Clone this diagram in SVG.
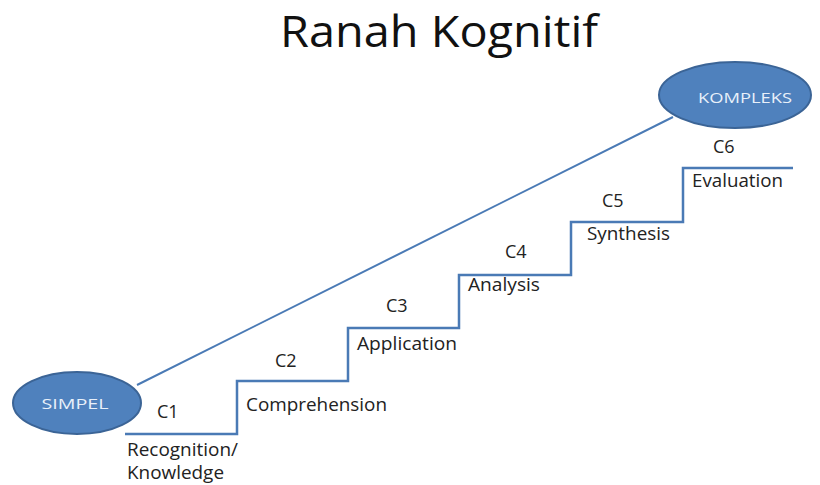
<svg xmlns="http://www.w3.org/2000/svg" width="820" height="485" viewBox="0 0 820 485">
<style>
.lbl{font-family:"Open Sans","Liberation Sans",sans-serif;font-size:18px;fill:#222;}
.node{fill:#4F81BD;stroke:#3B6496;stroke-width:2;}
.ntx{font-family:"Open Sans","Liberation Sans",sans-serif;font-size:15px;fill:#E8F0FA;text-anchor:middle;}
.ln{fill:none;stroke:#4A7AB5;stroke-width:2.5;}
</style>
<rect width="820" height="485" fill="#fff"/>
<text x="439" y="47" text-anchor="middle" textLength="318" lengthAdjust="spacingAndGlyphs" style="font-family:'Open Sans','Liberation Sans',sans-serif;font-size:43px;fill:#111;">Ranah Kognitif</text>
<g id="connectors">
<line class="ln" x1="137" y1="385" x2="673" y2="117" style="stroke-width:2"/>
<path id="stairs" class="ln" d="M125,434 H237 V381 H348 V328 H459 V275 H571 V222 H683 V168 H793"/>
</g>
<g id="simpel">
<ellipse class="node" cx="77" cy="403" rx="64" ry="31"/>
<text class="ntx" x="75" y="409" textLength="67" lengthAdjust="spacingAndGlyphs">SIMPEL</text>
</g>
<g id="kompleks">
<ellipse class="node" cx="735" cy="95" rx="76" ry="33"/>
<text class="ntx" x="745" y="103" textLength="94" lengthAdjust="spacingAndGlyphs">KOMPLEKS</text>
</g>
<g id="c1">
<text class="lbl" x="157" y="418">C1</text>
<text class="lbl" x="127" y="456" textLength="111" lengthAdjust="spacingAndGlyphs">Recognition/</text>
<text class="lbl" x="127" y="479" textLength="97" lengthAdjust="spacingAndGlyphs">Knowledge</text>
</g>
<g id="c2">
<text class="lbl" x="275" y="367">C2</text>
<text class="lbl" x="246" y="411" textLength="141" lengthAdjust="spacingAndGlyphs">Comprehension</text>
</g>
<g id="c3">
<text class="lbl" x="386" y="312">C3</text>
<text class="lbl" x="357" y="350" textLength="100" lengthAdjust="spacingAndGlyphs">Application</text>
</g>
<g id="c4">
<text class="lbl" x="505" y="258">C4</text>
<text class="lbl" x="468" y="291" textLength="72" lengthAdjust="spacingAndGlyphs">Analysis</text>
</g>
<g id="c5">
<text class="lbl" x="602" y="207">C5</text>
<text class="lbl" x="587" y="240" textLength="83" lengthAdjust="spacingAndGlyphs">Synthesis</text>
</g>
<g id="c6">
<text class="lbl" x="713" y="153">C6</text>
<text class="lbl" x="692" y="187" textLength="91" lengthAdjust="spacingAndGlyphs">Evaluation</text>
</g>
</svg>
